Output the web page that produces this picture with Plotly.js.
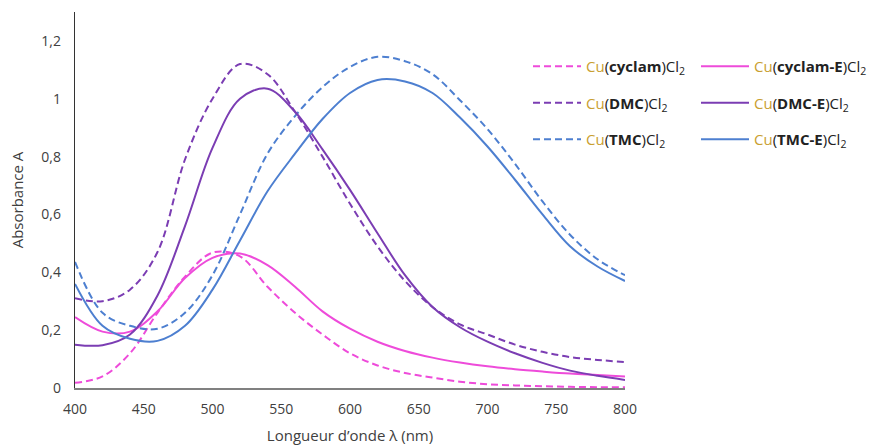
<!DOCTYPE html>
<html>
<head>
<meta charset="utf-8">
<script src="https://cdn.plot.ly/plotly-3.0.1.min.js"></script>
<style>html,body{margin:0;padding:0;background:#fff;}#chart{width:872px;height:445px;}</style>
</head>
<body>
<div id="chart"></div>
<script>
// Wavelengths (nm) and absorbance values
const wavelengths = [400, 420, 440, 460, 480, 500, 520, 540, 560, 580, 600, 620, 640, 660, 680, 700, 720, 740, 760, 780, 800];

const cyclamA  = [0.018, 0.04, 0.12, 0.26, 0.385, 0.468, 0.455, 0.35, 0.26, 0.185, 0.12, 0.078, 0.052, 0.036, 0.022, 0.013, 0.009, 0.006, 0.004, 0.003, 0.003];
const cyclamEA = [0.245, 0.195, 0.195, 0.265, 0.38, 0.45, 0.465, 0.425, 0.35, 0.265, 0.205, 0.16, 0.128, 0.105, 0.088, 0.075, 0.065, 0.057, 0.05, 0.045, 0.04];
const dmcA     = [0.31, 0.30, 0.34, 0.47, 0.79, 1.0, 1.12, 1.085, 0.955, 0.80, 0.637, 0.49, 0.37, 0.28, 0.22, 0.185, 0.15, 0.125, 0.107, 0.097, 0.09];
const dmcEA    = [0.15, 0.148, 0.185, 0.32, 0.56, 0.83, 1.0, 1.035, 0.955, 0.825, 0.685, 0.535, 0.39, 0.28, 0.21, 0.16, 0.12, 0.087, 0.06, 0.042, 0.028];
const tmcA     = [0.436, 0.26, 0.215, 0.205, 0.26, 0.39, 0.60, 0.81, 0.94, 1.04, 1.11, 1.145, 1.13, 1.085, 0.995, 0.895, 0.775, 0.645, 0.53, 0.445, 0.39];
const tmcEA    = [0.36, 0.215, 0.17, 0.163, 0.215, 0.34, 0.51, 0.68, 0.81, 0.93, 1.02, 1.065, 1.06, 1.02, 0.935, 0.835, 0.72, 0.60, 0.49, 0.42, 0.37];

const xTicks = [400, 450, 500, 550, 600, 650, 700, 750, 800];
const yTicks = [0, 0.2, 0.4, 0.6, 0.8, 1, 1.2];
const yTickText = ['0', '0,2', '0,4', '0,6', '0,8', '1', '1,2'];

const PINK = '#EE4BDA', PURPLE = '#7B3DB3', BLUE = '#4D7FD0', GOLD = '#C9A030';
const lbl = (name) => '<span style="color:' + GOLD + '">Cu</span>(<b>' + name + '</b>)Cl<sub>2</sub>';
const DASH = '7px,4px';

function tr(y, color, dash, name, legend, grp) {
  return {x: wavelengths, y: y, type: 'scatter', mode: 'lines', name: name, legend: legend, legendgroup: grp,
    line: {color: color, width: 2, dash: dash, shape: 'spline', smoothing: 1.0}, hoverinfo: 'skip'};
}

const data = [
  tr(cyclamA, PINK, DASH, lbl('cyclam'), 'legend', 'a'),
  tr(dmcA, PURPLE, DASH, lbl('DMC'), 'legend', 'b'),
  tr(tmcA, BLUE, DASH, lbl('TMC'), 'legend', 'c'),
  tr(cyclamEA, PINK, 'solid', lbl('cyclam-E'), 'legend2', 'd'),
  tr(dmcEA, PURPLE, 'solid', lbl('DMC-E'), 'legend2', 'e'),
  tr(tmcEA, BLUE, 'solid', lbl('TMC-E'), 'legend2', 'f')
];

const FONT = 'Open Sans, Noto Sans, sans-serif';
const legBase = {
  bgcolor: 'rgba(0,0,0,0)', borderwidth: 0, orientation: 'v', traceorder: 'grouped',
  tracegroupgap: 14, itemwidth: 48, font: {family: FONT, size: 15, color: '#222'}, yanchor: 'top', xanchor: 'left',
  xref: 'container', yref: 'container'
};

const layout = {
  width: 872, height: 445,
  margin: {l: 75, r: 247, t: 12, b: 57, autoexpand: false},
  paper_bgcolor: '#fff', plot_bgcolor: '#fff',
  font: {family: FONT, size: 13, color: '#404040'},
  xaxis: {
    range: [400, 800], tickvals: xTicks, ticktext: xTicks.map(String),
    showgrid: false, zeroline: false, showline: true, linecolor: '#808080', linewidth: 1.5,
    ticks: '', ticklen: 0, ticklabelstandoff: 8, tickfont: {size: 14, color: '#404040'},
    title: {text: 'Longueur d’onde λ (nm)', font: {size: 15, color: '#404040'}, standoff: 16}
  },
  yaxis: {
    range: [0, 1.3], tickvals: yTicks, ticktext: yTickText,
    showgrid: false, zeroline: false, showline: true, linecolor: '#333', linewidth: 1.2,
    ticks: '', ticklabelstandoff: 10, tickfont: {size: 14, color: '#404040'},
    title: {text: 'Absorbance A', font: {size: 15, color: '#404040'}, standoff: 14}
  },
  showlegend: true,
  legend: Object.assign({}, legBase, {x: 528 / 872, y: 1 - 50 / 445}),
  legend2: Object.assign({}, legBase, {x: 696 / 872, y: 1 - 50 / 445})
};

Plotly.newPlot('chart', data, layout, {staticPlot: true, displayModeBar: false});
</script>
</body>
</html>
